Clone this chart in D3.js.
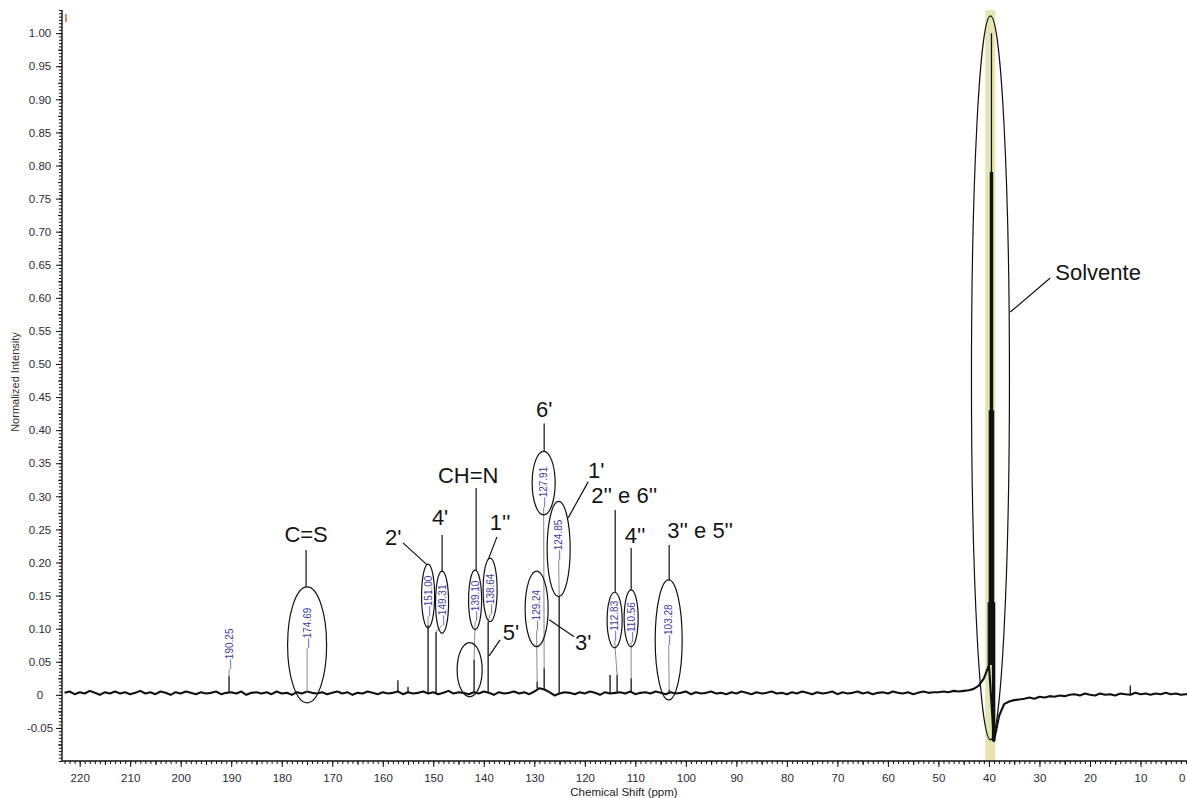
<!DOCTYPE html>
<html>
<head>
<meta charset="utf-8">
<script src="https://cdn.jsdelivr.net/npm/d3@7"></script>
<style>
  body { margin: 0; background: #fff; }
  svg { display: block; font-family: "Liberation Sans", Arial, sans-serif; }
  .tick text { font-size: 11.5px; fill: #2b2b3a; }
  .shift { font-size: 10px; fill: #3c3ca8; }
  .assign { font-size: 22px; fill: #151515; }
</style>
</head>
<body>
<script>
// baseline of the spectrum, ppm 223 down to 0 (1 ppm steps), in thousandths
var baseline = [
  3,5,1,4,2,6,3,0,4,2,   5,2,4,1,3,6,2,4,1,5,   3,0,4,2,5,3,1,4,2,3,
  5,1,3,4,2,5,0,3,4,2,   4,1,5,2,3,0,4,2,5,3,   2,4,1,3,5,2,4,0,3,2,
  5,3,1,4,2,3,5,1,4,2,   3,5,2,4,1,3,6,2,4,3,   1,4,2,5,3,0,4,2,3,5,
  2,4,1,5,10,8,4,-1,2,4, 3,1,4,2,5,3,0,4,2,3,   4,2,5,1,3,4,2,5,3,1,
  4,2,3,5,1,4,2,3,5,2,   3,1,4,2,5,3,1,4,2,3,   5,2,3,1,4,2,5,3,1,4,
  2,3,5,1,4,2,3,5,2,4,   1,3,4,2,5,3,2,4,1,3,   5,3,4,4,5,4,6,5,6,7,
  9,14,25,45,-70,-32,-14,-10,-8,-7,  -6,-4,-6,-3,-4,-2,-3,-1,-2,0,
  1,-1,2,0,-1,2,0,1,-1,2,  1,0,3,1,2,0,2,1,3,1,  2,0,1,2
];
var basePpm = d3.range(223, -1, -1);

// sample peaks (ppm, normalized height)
var peakPpm    = [190.43, 174.98, 157.0, 155.0, 151.03, 149.45, 141.92, 139.14, 129.44, 128.05, 125.08, 115.0, 113.61, 110.83, 103.3, 12.02];
var peakHeight = [0.028, 0.004, 0.022, 0.012, 0.105, 0.095, 0.053, 0.11, 0.02, 0.04, 0.148, 0.03, 0.03, 0.025, 0.008, 0.014];

// DMSO-d6 septet
var solventPpm    = [40.13, 39.92, 39.71, 39.50, 39.29, 39.08, 38.87];
var solventHeight = [0.14, 0.43, 0.79, 1.00, 0.79, 0.43, 0.14];
var solventBand = [40.73, 38.75];

// peak picking labels
var shiftText   = ["190.25", "174.69", "151.00", "149.31", "139.10", "138.64", "129.24", "127.91", "124.85", "112.83", "110.56", "103.28"];
var shiftPeak   = [0, 1, 4, 5, 6, 7, 8, 9, 10, 12, 13, 14];
var shiftX      = [190.43, 174.98, 151.03, 148.26, 141.72, 138.75, 129.54, 128.15, 125.18, 114.1, 110.83, 103.4];
var shiftY      = [0.0695, 0.101, 0.1495, 0.136, 0.142, 0.1526, 0.128, 0.314, 0.234, 0.112, 0.110, 0.106];

// ellipses: [ppm centre, intensity centre, ppm radius, intensity radius]
var ellipses = [
  [174.98, 0.0755, 3.86, 0.0876],
  [151.03, 0.1495, 1.29, 0.048],
  [148.26, 0.140, 1.29, 0.047],
  [141.72, 0.1435, 1.29, 0.045],
  [138.75, 0.1586, 1.39, 0.048],
  [142.8, 0.038, 2.48, 0.041],
  [129.54, 0.130, 2.28, 0.057],
  [128.15, 0.320, 2.28, 0.048],
  [125.18, 0.2205, 2.28, 0.072],
  [114.1, 0.113, 1.49, 0.042],
  [110.83, 0.1156, 1.39, 0.043],
  [103.4, 0.083, 2.67, 0.0906],
  [39.7, 0.479, 3.76, 0.547]
];

// assignments: text, anchor [ppm, intensity], text-anchor, leader from, leader to
var assignText  = ["C=S", "2'", "4'", "CH=N", "1''", "5'", "6'", "1'", "2'' e 6''", "4''", "3'' e 5''", "3'", "Solvente"];
var assignPos   = [[175.18, 0.231], [157.95, 0.2266], [148.65, 0.2568], [143.1, 0.320], [136.77, 0.249], [134.6, 0.083],
                   [128.05, 0.42], [117.76, 0.328], [112.2, 0.29], [110.04, 0.2296], [97.17, 0.237], [120.33, 0.068], [26.87, 0.627]];
var assignAnchor = ["middle", "middle", "middle", "middle", "middle", "middle", "middle", "middle", "middle", "middle", "middle", "middle", "start"];
var leaderFrom  = [[175.18, 0.219], [156.0, 0.2296], [148.25, 0.2417], [141.52, 0.3127], [137.4, 0.2387], [136.77, 0.083],
                   [128.05, 0.41], [119.34, 0.3218], [113.99, 0.2795], [110.83, 0.222], [103.3, 0.2266], [122.11, 0.0876], [27.86, 0.63]];
var leaderTo    = [[175.18, 0.1631], [151.22, 0.1964], [148.25, 0.1858], [141.52, 0.1888], [139.14, 0.204], [138.95, 0.0589],
                   [128.05, 0.368], [123.3, 0.2674], [113.99, 0.1556], [110.83, 0.1586], [103.3, 0.1737], [127.06, 0.1133], [35.78, 0.5785]];

var yTickValues = d3.range(-1, 21).map(function(i) { return i * 0.05; });
var yTickLabels = ["-0.05", "0", "0.05", "0.10", "0.15", "0.20", "0.25", "0.30", "0.35", "0.40", "0.45", "0.50",
                   "0.55", "0.60", "0.65", "0.70", "0.75", "0.80", "0.85", "0.90", "0.95", "1.00"];
var xTickValues = d3.range(0, 23).map(function(i) { return i * 10; });
var xTickLabels = xTickValues.map(String);

var W = 1187, H = 798;
var svg = d3.select("body").append("svg").attr("width", W).attr("height", H);

var x = d3.scaleLinear().domain([223.5, 0]).range([62, 1191]);
var y = d3.scaleLinear().domain([-0.1, 1.035]).range([761, 10]);

// solvent highlight
svg.append("rect")
  .attr("x", x(solventBand[0])).attr("y", y(1.035))
  .attr("width", x(solventBand[1]) - x(solventBand[0]))
  .attr("height", y(-0.1) - y(1.035))
  .attr("fill", "#e6e4b2");

// axes
function addAxis(axis, tr) {
  var g = svg.append("g").attr("class", "axis").attr("transform", tr).call(axis);
  g.selectAll("line").attr("stroke", "#111");
  return g;
}
var fine = d3.range(0, 224, 1);
addAxis(d3.axisBottom(x).tickValues(fine).tickSize(3).tickFormat("").tickSizeOuter(0), "translate(0,761)");
addAxis(d3.axisBottom(x).tickValues(d3.range(5, 224, 10)).tickSize(4).tickFormat("").tickSizeOuter(0), "translate(0,761)");
var gx = addAxis(d3.axisBottom(x).tickValues(xTickValues).tickSize(6).tickSizeOuter(0)
  .tickFormat(function(d, i) { return xTickLabels[i]; }), "translate(0,761)");
gx.selectAll("text").attr("dy", "1.05em");
// last label would run off the page edge: pull it inside
gx.selectAll(".tick").filter(function(d) { return d === 0; }).select("text")
  .attr("text-anchor", "end").attr("x", W - 2 - x(0));

var fineY = d3.range(-20, 208).map(function(i) { return i * 0.005; });
addAxis(d3.axisLeft(y).tickValues(fineY).tickSize(3).tickFormat("").tickSizeOuter(0), "translate(62,0)");
addAxis(d3.axisLeft(y).tickValues(d3.range(-3, 41, 2).map(function(i) { return i * 0.025; })).tickSize(4).tickFormat("").tickSizeOuter(0), "translate(62,0)");
var gy = addAxis(d3.axisLeft(y).tickValues(yTickValues).tickSize(6).tickSizeOuter(0)
  .tickFormat(function(d, i) { return yTickLabels[i]; }), "translate(62,0)");
gy.selectAll("text").attr("x", -22).attr("text-anchor", "middle");
svg.selectAll(".domain").remove();
svg.append("line").attr("x1", 62).attr("x2", 62).attr("y1", y(1.035)).attr("y2", y(-0.1))
  .attr("stroke", "#111").attr("stroke-width", 1.4);
svg.append("line").attr("x1", 62).attr("x2", W).attr("y1", y(-0.1)).attr("y2", y(-0.1))
  .attr("stroke", "#111").attr("stroke-width", 1.6);

// axis titles
svg.append("text").attr("transform", "translate(19,382) rotate(-90)")
  .attr("text-anchor", "middle").attr("font-size", 11).attr("fill", "#3a2e28")
  .text("Normalized Intensity");
svg.append("text").attr("x", 624).attr("y", 796)
  .attr("text-anchor", "middle").attr("font-size", 11.5).attr("fill", "#222")
  .text("Chemical Shift (ppm)");

// spectrum
var baseAt = function(p) { return baseline[basePpm.indexOf(Math.round(p))] / 1000; };
var line = d3.line().x(function(d) { return x(d[0]); }).y(function(d) { return y(d[1]); });
svg.append("path")
  .datum(basePpm.map(function(p, i) { return [p, baseline[i] / 1000]; }))
  .attr("d", line).attr("fill", "none").attr("stroke", "#111").attr("stroke-width", 2.1)
  .attr("stroke-linejoin", "round");

var allPeaks = peakPpm.map(function(p, i) { return [p, peakHeight[i]]; })
  .concat(solventPpm.map(function(p, i) { return [p, solventHeight[i]]; }));
svg.selectAll("line.peak").data(allPeaks).enter().append("line")
  .attr("class", "peak")
  .attr("x1", function(d) { return x(d[0]); }).attr("x2", function(d) { return x(d[0]); })
  .attr("y1", function(d) { return y(baseAt(d[0])); })
  .attr("y2", function(d) { return y(d[1]); })
  .attr("stroke", "#111").attr("stroke-width", 1.3);

// peak labels (rotated) with connector lines
shiftText.forEach(function(t, i) {
  var cx = x(shiftX[i]), cy = y(shiftY[i]);
  var txt = svg.append("text").attr("class", "shift")
    .attr("transform", "translate(" + (cx + 3.5) + "," + cy + ") rotate(-90)")
    .attr("text-anchor", "middle").text("\u2014" + t);
  var half = txt.node().getComputedTextLength() / 2;
  var pk = shiftPeak[i];
  var py = y(peakHeight[pk]);
  if (py > cy + half + 1) {
    svg.append("line")
      .attr("x1", cx).attr("y1", cy + half)
      .attr("x2", x(peakPpm[pk])).attr("y2", py)
      .attr("stroke", "#8a8a8a").attr("stroke-width", 1);
  }
});

// ellipses
svg.selectAll("ellipse").data(ellipses).enter().append("ellipse")
  .attr("cx", function(d) { return x(d[0]); })
  .attr("cy", function(d) { return y(d[1]); })
  .attr("rx", function(d) { return x(0) - x(d[2]); })
  .attr("ry", function(d) { return y(0) - y(d[3]); })
  .attr("fill", "none").attr("stroke", "#111").attr("stroke-width", 1.2);

// assignment labels and leaders
assignText.forEach(function(t, i) {
  svg.append("text").attr("class", "assign")
    .attr("x", x(assignPos[i][0])).attr("y", y(assignPos[i][1]))
    .attr("text-anchor", assignAnchor[i]).text(t);
  svg.append("line")
    .attr("x1", x(leaderFrom[i][0])).attr("y1", y(leaderFrom[i][1]))
    .attr("x2", x(leaderTo[i][0])).attr("y2", y(leaderTo[i][1]))
    .attr("stroke", "#111").attr("stroke-width", 1.2);
});

// cursor marks
svg.append("line").attr("x1", 66).attr("x2", 66).attr("y1", 14).attr("y2", 22)
  .attr("stroke", "#d0602a").attr("stroke-width", 1.5);
</script>
</body>
</html>
